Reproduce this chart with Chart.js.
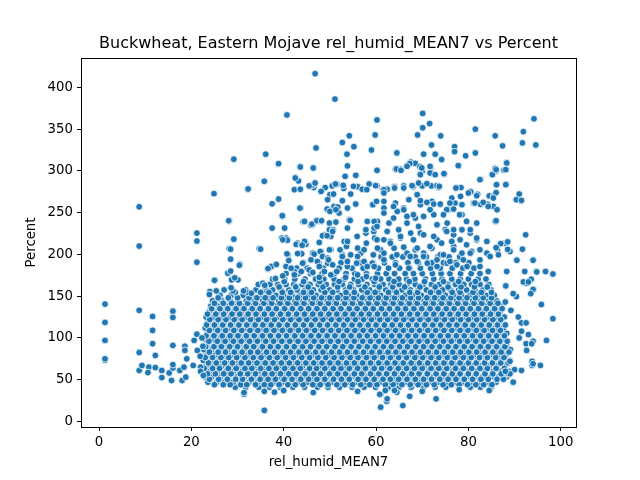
<!DOCTYPE html>
<html>
<head>
<meta charset="utf-8">
<script src="https://cdn.jsdelivr.net/npm/chart.js@4.4.1/dist/chart.umd.min.js"></script>
<style>
  html, body { margin: 0; padding: 0; background: #fff; }
</style>
</head>
<body>
<canvas id="chart" width="640" height="480"></canvas>
<script>
var chartTitle = "Buckwheat, Eastern Mojave rel_humid_MEAN7 vs Percent";
var xLabel = "rel_humid_MEAN7";
var yLabel = "Percent";
var xTicks = [0, 20, 40, 60, 80, 100];
var yTicks = [0, 50, 100, 150, 200, 250, 300, 350, 400];

// dense middle of the cloud, read row by row: [Percent, humid, humid, ...]
var coreRows = [
  [41, 29.5,31.8,34.6,36.9,39.2,42,44.5,47.3,49.6,52.1,54.8,57.4,59.9,62.7,65,67.6,70.3,72.8,75.1,77.9,80.4,82.6,84.9],
  [47, 23.6,25.5,27.2,29.1,30.6,32.5,34.4,36.2,37.8,39.7,41.6,43.3,45.1,46.7,48.6,50.4,52.3,53.9,55.8,57.5,59.2,61.1,62.9,64.5,66.4,68.2,69.8,71.7,73.6,75.2,77.1,78.8,80.6,82.4,84.1,86],
  [53.5, 22.8,24.4,26.3,28,29.9,31.5,33.4,35.3,36.9,38.8,40.5,42.3,44.1,45.9,47.6,49.3,51.2,52.9,54.7,56.6,58.2,60,61.8,63.7,65.3,67.1,68.9,70.8,72.4,74.3,76,77.7,79.6,81.3,83.1,84.9,86.6,88.3],
  [60, 22.5,23.9,25.6,27.5,29.1,31,32.7,34.5,36.1,38,39.8,41.5,43.2,45,46.8,48.5,50.3,52,53.7,55.6,57.3,59.1,60.8,62.6,64.4,66.1,67.8,69.6,71.4,73.1,74.8,76.6,78.3,80.1,81.8,83.6,85.4,87.1,88.8],
  [66.5, 23.2,24.9,26.6,28.4,30.1,31.9,33.6,35.4,37.1,38.9,40.6,42.4,44.1,45.9,47.7,49.4,51.2,52.9,54.6,56.4,58.1,59.9,61.7,63.4,65.2,66.9,68.7,70.4,72.2,73.9,75.7,77.4,79.2,80.9,82.7,84.5,86.2,88],
  [73, 22.6,24.2,26,27.7,29.5,31.2,33,34.7,36.5,38.2,40,41.7,43.5,45.2,47,48.7,50.5,52.2,54,55.7,57.5,59.2,61,62.7,64.5,66.2,68,69.7,71.5,73.2,75,76.7,78.5,80.2,82,83.7,85.5,87.2,89],
  [79.5, 23.3,25.1,26.8,28.6,30.3,32.1,33.8,35.6,37.3,39.1,40.8,42.6,44.3,46.1,47.8,49.6,51.3,53.1,54.8,56.6,58.3,60.1,61.8,63.6,65.3,67.1,68.8,70.6,72.3,74.1,75.8,77.6,79.3,81.1,82.8,84.6,86.3,88.1],
  [86, 22.7,24.4,26.2,27.9,29.7,31.4,33.2,34.9,36.7,38.4,40.2,41.9,43.7,45.4,47.2,48.9,50.7,52.4,54.2,55.9,57.7,59.4,61.2,62.9,64.7,66.4,68.2,69.9,71.7,73.4,75.2,76.9,78.7,80.4,82.2,83.9,85.7,87.4,89.1],
  [92.5, 23.4,25.2,26.9,28.7,30.4,32.2,33.9,35.7,37.4,39.2,40.9,42.7,44.4,46.2,47.9,49.7,51.4,53.2,54.9,56.7,58.4,60.2,61.9,63.7,65.4,67.2,68.9,70.7,72.4,74.2,75.9,77.7,79.4,81.2,82.9,84.7,86.4,88.2],
  [99, 22.8,24.5,26.3,28,29.8,31.5,33.3,35,36.8,38.5,40.3,42,43.8,45.5,47.3,49,50.8,52.5,54.3,56,57.8,59.5,61.3,63,64.8,66.5,68.3,70,71.8,73.5,75.3,77,78.8,80.5,82.3,84,85.8,87.5],
  [105.5, 23.5,25.3,27,28.8,30.5,32.3,34,35.8,37.5,39.3,41,42.8,44.5,46.3,48,49.8,51.5,53.3,55,56.8,58.5,60.3,62,63.8,65.5,67.3,69,70.8,72.5,74.3,76,77.8,79.5,81.3,83,84.8,86.5,88.3],
  [112, 23,24.7,26.4,28.2,29.9,31.7,33.4,35.2,36.9,38.7,40.4,42.2,43.9,45.7,47.4,49.2,50.9,52.7,54.4,56.2,57.9,59.7,61.4,63.2,64.9,66.7,68.4,70.2,71.9,73.7,75.4,77.2,78.9,80.7,82.4,84.2,85.9,87.6],
  [118.5, 23.6,25.4,27.1,28.9,30.6,32.4,34.1,35.9,37.6,39.4,41.1,42.9,44.6,46.4,48.1,49.9,51.6,53.4,55.1,56.9,58.6,60.4,62.1,63.9,65.6,67.4,69.1,70.9,72.6,74.4,76.1,77.9,79.6,81.4,83.1,84.9,86.6],
  [125, 23.2,24.9,26.7,28.4,30.2,31.9,33.7,35.4,37.2,38.9,40.7,42.4,44.2,45.9,47.7,49.4,51.2,52.9,54.7,56.4,58.2,59.9,61.7,63.4,65.2,66.9,68.7,70.4,72.2,73.9,75.7,77.4,79.2,80.9,82.7,84.4,86.2,87.8],
  [131.5, 23.9,25.7,27.4,29.2,30.9,32.7,34.4,36.2,37.9,39.7,41.4,43.2,44.9,46.7,48.4,50.2,51.9,53.7,55.4,57.2,58.9,60.7,62.4,64.2,65.9,67.7,69.4,71.2,72.9,74.7,76.4,78.2,79.9,81.7,83.4,85.2,86.9],
  [138, 24.2,26,27.7,29.5,31.2,33,34.7,36.5,38.2,40,41.7,43.5,45.2,47,48.7,50.5,52.2,54,55.7,57.5,59.2,61,62.7,64.5,66.2,68,69.7,71.5,73.2,75,76.7,78.5,80.2,82,83.7,85.5,87.2],
  [144.5, 24.6,26.6,28.4,30.1,31.9,33.6,35.4,37.1,38.9,40.6,42.4,44.1,45.9,47.6,49.4,51.1,52.9,54.6,56.4,58.1,59.9,61.6,63.4,65.1,66.9,68.6,70.4,72.1,73.9,75.6,77.4,79.1,80.9,82.6,84.4,86.1],
  [151, 26.2,28.6,31.2,33,34.8,36.5,38.3,40,41.8,43.5,45.3,47,48.8,50.5,52.3,54,55.8,57.5,59.3,61,62.8,64.5,66.3,68,69.8,71.5,73.3,75,76.8,78.5,80.3,82,83.8,85.6],
  [157.5, 31.8,34,35.9,37.6,39.4,41.1,42.9,44.6,46.4,48.1,49.9,51.6,53.4,55.1,56.9,58.6,60.4,62.1,63.9,65.6,67.4,69.1,70.9,72.6,74.4,76.1,77.9,79.6,81.4,83.1,84.9],
  [164, 34.5,37,38.7,40.5,42.2,44,45.7,47.5,49.2,51,52.7,54.5,56.2,58,59.7,61.5,63.2,65,66.7,68.5,70.2,72,73.7,75.5,77.2,79,80.7,82.5,84.4],
  [170.5, 37.6,40.2,42.4,44.6,46.9,48.7,50.9,53.1,55.3,57,59.2,61,62.8,64.9,66.6,68.4,70.7,72.5,74.3,76.4,78.2,80,82.1,83.8],
  [177, 40.5,43.2,45.8,48.3,51,53.5,55.4,57.9,60.3,62.2,64,66.3,68.1,70,72.2,74.1,76,78.3,80.6,82.5],
  [183.5, 42.8,45.1,48.6,51.9,54.8,57.2,60.5,62.7,65.1,67.3,69.6,71.8,73.9,76.5,78.8,81.2],
  [190, 44.3,47.6,52.4,56.5,59.3,61.8,64.2,66.9,69.2,72.1,74.6,77.3,80.1],
  [197, 61.1,63.5,65.8,68.5,70.9,73.4,75.8,78.1]
];

// second pass over the dense middle, between the rows above
var fillRows = [
  [44, 25,26.9,28.4,30.7,32,33.9,35.8,37.2,39,40.9,42.5,44.2,46.3,47.9,49.6,51.5,53.2,54.9,56.7,58.6,60.2,62,63.7,65.6,67.4,69.1,70.9,72.6,74.5,76.3,78,79.8,81.6,83.3,85.1],
  [50.5, 23.9,25.9,27.8,29.6,31.1,33,34.9,36.6,38.2,40.1,41.8,43.7,45.4,47.2,48.9,50.8,52.5,54.2,56.1,57.8,59.6,61.5,63.1,64.9,66.7,68.5,70.3,72,73.8,75.6,77.3,79.1,80.9,82.7,84.3,86.2,87.6],
  [57, 23.5,25.2,27,28.6,30.6,32.2,33.9,35.9,37.5,39.3,41.1,42.7,44.6,46.5,48,49.9,51.7,53.4,55.3,56.9,58.8,60.6,62.3,64,65.8,67.7,69.3,71.1,73,74.7,76.5,78.2,80,81.7,83.6,85.3,87.1,88.6],
  [63.5, 22.8,24.6,26.1,28,29.7,31.6,33.1,35,36.8,38.4,40.2,42,43.6,45.6,47.1,48.9,50.8,52.4,54.2,56,57.7,59.6,61.2,63,64.8,66.6,68.3,70,71.9,73.6,75.3,77.2,78.9,80.7,82.5,84.1,86,87.8],
  [70, 23.7,25.4,27.2,28.9,30.8,32.4,34.2,36,37.7,39.5,41.2,43,44.8,46.5,48.3,50,51.8,53.6,55.3,57.1,58.8,60.6,62.4,64.1,65.9,67.6,69.4,71.2,72.9,74.7,76.4,78.2,80,81.7,83.5,85.2,87,88.6],
  [76.5, 23,24.6,26.4,28.1,29.8,31.6,33.4,35.1,36.9,38.6,40.4,42.1,43.9,45.6,47.4,49.1,50.9,52.6,54.4,56.1,57.9,59.6,61.4,63.1,64.9,66.6,68.4,70.1,71.9,73.6,75.4,77.1,78.9,80.6,82.4,84.1,85.9,87.7],
  [83, 23.9,25.8,27.4,29.3,31,32.8,34.4,36.3,38,39.8,41.5,43.3,45,46.9,48.5,50.4,52.1,53.8,55.6,57.3,59.1,60.8,62.6,64.3,66.1,67.8,69.6,71.3,73.1,74.8,76.6,78.3,80.1,81.8,83.6,85.3,87.1,88.8],
  [89.5, 23.1,24.9,26.5,28.3,30,31.9,33.5,35.4,37.1,38.8,40.6,42.3,44.1,45.8,47.6,49.3,51.1,52.8,54.6,56.3,58.1,59.8,61.6,63.3,65.1,66.8,68.6,70.3,72.1,73.8,75.6,77.3,79.1,80.8,82.6,84.3,86.1,87.9],
  [96, 23.8,25.6,27.3,29.1,30.8,32.6,34.3,36.1,37.8,39.6,41.3,43.1,44.8,46.6,48.3,50.1,51.8,53.6,55.3,57.1,58.8,60.6,62.3,64.1,65.8,67.6,69.3,71.1,72.8,74.6,76.3,78.1,79.8,81.6,83.3,85.1,86.8,88.4],
  [102.5, 23.2,24.9,26.7,28.4,30.1,31.9,33.6,35.4,37.1,38.9,40.6,42.4,44.1,45.9,47.6,49.4,51.1,52.9,54.6,56.4,58.1,59.9,61.6,63.4,65.1,66.9,68.6,70.4,72.1,73.9,75.6,77.4,79.1,80.9,82.6,84.4,86.1,87.8],
  [109, 23.9,25.7,27.4,29.2,30.9,32.7,34.4,36.2,37.9,39.7,41.4,43.2,44.9,46.7,48.4,50.2,51.9,53.7,55.4,57.2,58.9,60.7,62.4,64.2,65.9,67.7,69.4,71.2,72.9,74.7,76.4,78.2,79.9,81.7,83.4,85.2,86.9],
  [115.5, 23.3,25,26.8,28.5,30.3,32,33.8,35.5,37.3,39,40.8,42.5,44.3,46,47.8,49.5,51.3,53,54.8,56.5,58.3,60,61.8,63.5,65.3,67,68.8,70.5,72.3,74,75.8,77.5,79.3,81,82.8,84.5,86.3,88],
  [122, 24,25.8,27.5,29.3,31,32.8,34.5,36.3,38,39.8,41.5,43.3,45,46.8,48.5,50.3,52,53.8,55.5,57.3,59,60.8,62.5,64.3,66,67.8,69.5,71.3,73,74.8,76.5,78.3,80,81.8,83.5,85.3,87],
  [128.5, 23.5,25.3,27,28.8,30.5,32.3,34,35.8,37.5,39.3,41,42.8,44.5,46.3,48,49.8,51.5,53.3,55,56.8,58.5,60.3,62,63.8,65.5,67.3,69,70.8,72.5,74.3,76,77.8,79.5,81.3,83,84.8,86.5],
  [135, 24.4,26.2,27.9,29.7,31.4,33.2,34.9,36.7,38.4,40.2,41.9,43.7,45.4,47.2,48.9,50.7,52.4,54.2,55.9,57.7,59.4,61.2,62.9,64.7,66.4,68.2,69.9,71.7,73.4,75.2,76.9,78.7,80.4,82.2,83.9,85.7,87.3],
  [141.5, 25,26.9,28.7,30.4,32.2,33.9,35.7,37.4,39.2,40.9,42.7,44.4,46.2,47.9,49.7,51.4,53.2,54.9,56.7,58.4,60.2,61.9,63.7,65.4,67.2,68.9,70.7,72.4,74.2,75.9,77.7,79.4,81.2,82.9,84.7,86.4],
  [148, 25.8,28,30,32.5,34.2,36,37.7,39.5,41.2,43,44.7,46.5,48.2,50,51.7,53.5,55.2,57,58.7,60.5,62.2,64,65.7,67.5,69.2,71,72.7,74.5,76.2,78,79.7,81.5,83.2,85],
  [154.5, 29.5,32.2,35,36.8,39.7,41.5,44.3,46,48.9,50.6,53.5,55.3,58.1,59.8,62.7,64.4,67.3,69,71.8,73.6,76.5,78.2,81,82.8,85],
  [161, 36,39,42.6,45.3,48.5,51.7,54.3,57.6,60.7,63.6,66.2,69.5,72.8,75.6,78.4,81.3,84.1],
  [167.5, 40.1,44.3,47.8,52,56.1,59.6,63.9,67.2,70.5,74.6,77.9,81.5]
];

// medium density band between about 180 and 265
var midPoints = [
  [43.7,255.5],[49.5,253.5],[50.9,257.5],[52.7,263.5],[55.6,260.7],[59.2,259.5],[61.7,255.5],
  [64.2,261.5],[66,255.5],[67.1,265.5],[69.6,259.5],[72.1,263.5],[73.9,259.5],[75.7,253.5],
  [77.1,261.5],[81.1,261.5],[83.3,261.5],[85.4,257.5],
  [39.8,245.5],[44.5,239.5],[46.3,235.5],[48.1,239.5],[49.9,237.5],[52,249.5],[54.2,241.5],
  [58.1,239.5],[60.3,239.5],[62.8,237.5],[64.6,251.5],[66.7,245.5],[68.5,243.5],[70.3,245.5],
  [72.5,247.5],[75.4,237.5],[78.6,247.5],[81.8,237.5],[85.8,239.5],
  [40.2,231.5],[40.5,219.5],[43,213.5],[44.8,213.5],[48.8,223.5],[50.2,221.5],[53.1,215.5],
  [55.9,221.5],[57.8,225.5],[59.5,227.5],[61.7,217.5],[63.1,215.5],[64.9,229.5],[65.3,219.5],
  [67.5,225.5],[69.6,225.5],[73.2,217.5],[75,229.5],[76.8,223.5],[80.4,225.5],[81.8,217.5],
  [40.9,199.5],[43.7,201.5],[46.3,201.5],[48.1,203.5],[50.2,205.5],[52.7,199.5],[54.5,199.5],
  [56.7,201.5],[59.5,199.5],[61,205.5],[63.9,207.5],[66.7,201.5],[68.5,205.5],[70.3,201.5],
  [72.1,207.5],[73.9,199.5],[76.8,209.5],[78.6,201.5],[80.7,203.5],[84,201.5],
  [40.5,185.5],[42.3,179.5],[45.5,181.5],[47.3,191.5],[49.5,189.5],[52,183.5],[53.8,185.5],
  [57.4,191.5],[59.2,189.5],[61.7,193.5],[64.2,187.5],[67.1,183.5],[68.9,191.5],[71.1,189.5],
  [73.2,185.5],[75.4,189.5],[77.5,187.5],[79.7,185.5],[82.5,185.5],[84.3,179.5]
];

// low humidity stragglers on the left
var leftPoints = [
  [1.3,140.5],[1.3,118.5],[1.3,97],[1.3,73.3],[1.3,75],
  [8.7,257],[8.7,210],[8.7,133],[8.7,82.5],[8.7,61],
  [9.3,67],[10.8,65],[10.6,58.5],[11.6,125.7],[11.6,109],[11.6,93],[12.2,79],[12.2,64.5],
  [13.6,61],[13.6,52.5],[15.2,58],[15.7,49],[16,64],[16,68],[16,132],[16,124.5],[16,91],
  [17.5,61],[18,49],[18.8,53],[18.4,65],[19,75],[18.6,90],[18.6,85],[20.4,67],[20.6,97],
  [21.3,85],[21.2,104.5],[22,65],[22,60],[21.2,225.5],[21.2,216],[21.2,190.6],[22.3,100],
  [21.9,78],[22.5,90],[22.6,55]
];

// scattered points above the dense cloud
var upperPoints = [
  [46.8,416.4],[40.7,367],[47,327.5],[29.2,314],[36.1,320],[38.8,308],[43.5,304.7],[46.4,303.5],
  [42.5,292],[43.2,288],[35.8,288],[46.5,280],[46.3,283],[42.3,277.5],[43.6,278],[48,275],
  [32.2,278],[24.9,272.7],[38.8,266],[37.5,260.6],[43.5,255.5],[39.6,246],[28.2,240],[44.2,239],
  [45.9,235],[47,240],[37.5,231.5],[40.2,231.5],[29.2,218],[39.6,219.5],[40.8,217],[42.7,212],
  [44.8,212],[28.2,207],[34.7,207],
  [51.1,386],[70.1,368.8],[60.2,361],[71.6,356.7],[70.1,351.6],[94.2,362.4],[91.9,347],[81.5,350],
  [69,343],[54.2,342],[59.8,343],[52.7,334],[55.2,329],[85.8,342],[91.7,333.5],[94.6,331],[74,342],
  [72,331],[77,329],[77,323],[87.4,330],[59,325],[53.7,320],[64.5,321.5],[72.8,320],[70.3,320],
  [81.5,321.5],[79.4,318],[74.2,314],[67.5,310.5],[68.5,309],[66.8,307],[65.3,302],[64.2,302],
  [77.9,306],[88.2,309.5],[85.8,303],[87.7,301],[85.1,296],[86,300],[53.8,306],[60.3,301],[69.5,305],
  [70,300],[71.8,303],[69.5,296],[71.8,298],[74.8,296],[82.6,290],[53.3,293.5],[55.7,295],
  [45.5,282],[49,280],[50.5,282],[51.5,284],[53,279],[56,281],[57,278],
  [60.2,282],[61.5,277.5],[62.4,278],[64,281],[66,282],[68,281],[70,282],[72,282],[73.5,280],
  [78.4,280],[86,283],[88.2,284],[80.5,275],[82,272],[84.5,270],[85.5,270],[86,274],[91,272],
  [90.3,265.5],[91.4,264],[82.6,260],[84.2,260],
  [38.9,308.7],[43.6,304.7],[55.6,294.7],[35.8,287.5],[32.3,278.3],[42.5,291.5],[46.8,285.5],
  [48.1,275.5],[51.2,284.3],[52.9,282.7],[55.1,281.5],[54.5,272.3],[58.5,284.3],[59.9,282.3],
  [58,277.5],[50,271.5],[50.8,272.3],[38.9,266.3],[49.5,265.5],[52.7,264.3],[55.6,260.3],
  [59.3,259.5],[60.1,263.5],[49.4,254.3],[50,251.5],[51.7,256.7],[51.3,253.5],[53.8,255.5],
  [39.7,246.3],[28.1,240.3],[44.5,239.5],[46.1,236.3],[47.2,240.3],[48.2,240.3],[49.9,237.5],
  [51.3,238.7],[49.9,229.5],[50.7,229.5],[54.4,240.7],[53.8,231.5],[58.1,239.5],[59.6,239.5],
  [57.8,229.5],[59.6,231.5],[29.2,218.3],[39.8,217.5],[35,206.3],[28.5,206.3],[28.5,194.3],
  [30.5,188.3],[43.8,211.5],[44.5,215.5],[43.9,200.7],[46.6,200.3],[47.7,214.3],[48.4,222.3],
  [49.4,222.3],[50.6,227.5],[47.9,203.5],[48.4,197.5],[49.5,195.5],[49.9,205.5],[52.2,205.5],
  [52.7,197.5],[53.6,209.5],[53.8,215.5],[56,207.5],[56,197.5],[57.4,205.5],[57.9,213.5],
  [59.7,219.5],[60.3,207.5],[59.4,199.5],[40.7,200.7],[41.1,192.7],[36.6,182.3],[37.3,185.5],
  [25.1,169.5],[27.9,177.5],[28.7,169.5],[30.1,169.5],[24,155.5],[25.4,156.3],[27.1,157.5],
  [29,156.3],[31.3,156.3],[33,153.5],[35.5,165.5],[38.2,171.5],[39.8,174.3],[41.6,183.5],
  [42.3,175.5],[43.8,179.5],[46.3,178.3],[47.7,172.5],[48.8,179.5],[50.2,175.5],[51.5,179.5],
  [53.4,172.5],[56,175.5],[57.9,173.5],[59.9,171.5],[49.7,193.5],[50.6,187.5],[53.8,191.5],
  [55.8,189.5],[58.1,185.5],[59.6,185.5],[45.9,193.5],[47.7,185.5],[44.1,189.5],[30.4,187],
  [28.5,180],[29.4,172],[36.6,183],[38.4,188],[38.2,171],[35.9,163],[43,201],[44,211],
  [23.9,152],[25,169],[28.6,160],
  [60.2,300.7],[67.3,308.7],[66.7,305.5],[64.4,302.3],[65.4,300.7],[69.9,303.5],[69.6,295.5],
  [71.7,305.5],[71.7,297.5],[74.2,313.5],[77.8,306.3],[74.7,296.7],[72.8,295.5],[69.2,285.5],
  [71,284.7],[73.2,282.3],[73.7,281.5],[67.8,282.3],[66,279.5],[64,279.5],[61.7,277.5],[61.7,273.5],
  [77.3,279.5],[80,273.5],[81.8,270.3],[82.5,289.5],[85.2,295.5],[86,301.5],[88.1,301.5],
  [88.3,309.5],[86.1,283.5],[88.1,283.5],[91,272.3],[90.4,265.5],[91.5,264.7],[81.4,261.5],
  [83.2,262.3],[85.4,267.5],[84.3,257.5],[86.2,253.5],[86,240.3],[78.3,269.5],[76.4,267.5],
  [78.6,259.5],[76,261.5],[68.9,271.5],[69.6,264.3],[71,262.3],[72.5,260.3],[73.9,260.3],
  [71.7,253.5],[75.3,253.5],[76.8,254.3],[78.1,247.5],[74.6,247.5],
  [61.7,263.5],[63.8,257.5],[66,253.5],[68.1,247.5],[61.7,249.5],[63.8,243.5],[66.7,237.5],
  [69.2,233.5],[73.2,235.5],[75.3,227.5],[76.8,229.5],[70.3,223.5],[72.5,221.5],[60.2,233.5],
  [62.4,227.5],[65.3,221.5],[68.1,217.5],[60.2,217.5],[63.1,213.5],[66,208.7],[68.9,207.5],
  [71.7,209.5],[74.2,213.5],[76.4,215.5],[78.2,217.5],[79.6,211.5],[76.8,205.5],[74.6,199.5],
  [80.4,201.5],[82.5,205.5],[84,215.5],[84.7,197.5],[82.5,193.5],[78.9,193.5],[76,191.5],
  [73.2,193.5],[70.3,197.5],[67.4,197.5],[64.5,199.5],[61.7,201.5],
  [79.6,239.5],[81.8,237.5],[80.4,229.5],[78.6,229.5],[81.8,219.5],[92.4,223.5],[87.9,213.5],
  [86.3,205.5],[89,203.5],[86.5,199.5],[91.7,206.3],[90.4,193.5],[94,193.5],[88.3,179.5],
  [92.2,179.5],[94.7,179.5],[96.7,179.5],[93.6,170.3],[92.6,165.5],[94.1,158.3],[88.1,162.3],
  [90.4,149.5]
];

// right-hand edge of the cloud
var rightPoints = [
  [98.3,123],[96.9,97],[95.6,67],[93.8,67],[93.8,72],[95.8,140],[94,158],[93.5,153],[98.3,176.5],
  [94.8,179],[94,193],[90.5,193],[91.9,167],[93,167],[88.5,206],[87,213],[88.5,215],[86,208],
  [89.7,153],[88,143],[89.2,133],[90.8,125],[91.5,118],[92.5,118],[93,104],[91.5,108],[91,100],
  [92.5,93],[94,96],[89,72],[90,62],[89,57],[88,60],[89.7,47],[91.5,61],[94,69],[92.6,85],[93.7,93]
];

// lowest values under the cloud
var bottomPoints = [
  [84.5,37],[61,17],[62.3,24],[65.8,19],[67.3,30],[73,27],[61,32],[64.5,35],[46.4,34.5],
  [31.4,32.5],[31.4,34.5],[35.8,13.2],[35.8,36],[60.8,32.4],[62.4,27],[64,37],[62,37],
  [38,35],[40,37],[56,36],[70,36],[78,38]
];

var points = [];
[coreRows, fillRows].forEach(function (rows) {
  rows.forEach(function (row) {
    for (var i = 1; i < row.length; i++) points.push({ x: row[i], y: row[0] });
  });
});
[midPoints, leftPoints, upperPoints, rightPoints, bottomPoints].forEach(function (list) {
  list.forEach(function (p) { points.push({ x: p[0], y: p[1] }); });
});

var font = "DejaVu Sans";

// matplotlib style box and the title over the plot area
var framePlugin = {
  id: "frame",
  afterDraw: function (chart) {
    var a = chart.chartArea, ctx = chart.ctx;
    ctx.save();
    ctx.strokeStyle = "#000";
    ctx.lineWidth = 1;
    ctx.strokeRect(Math.round(a.left) + 0.5, Math.round(a.top) + 0.5,
      Math.round(a.right - a.left), Math.round(a.bottom - a.top));
    ctx.fillStyle = "#000";
    ctx.font = "16px '" + font + "'";
    ctx.textAlign = "center";
    ctx.textBaseline = "middle";
    ctx.fillText(chartTitle, (a.left + a.right) / 2, 44);
    ctx.restore();
  }
};

new Chart(document.getElementById("chart").getContext("2d"), {
  type: "scatter",
  data: {
    datasets: [{
      data: points,
      backgroundColor: "#1f77b4",
      borderColor: "#ffffff",
      borderWidth: 0.8,
      pointRadius: 3.4,
      pointHoverRadius: 3.4
    }]
  },
  options: {
    responsive: false,
    animation: false,
    events: [],
    layout: { padding: { top: 58, right: 64, left: 0, bottom: 0 } },
    plugins: {
      legend: { display: false },
      tooltip: { enabled: false },
      title: { display: false }
    },
    scales: {
      x: {
        type: "linear",
        min: -3.9,
        max: 103.3,
        afterBuildTicks: function (s) { s.ticks = xTicks.map(function (v) { return { value: v }; }); },
        afterFit: function (s) { s.height = 53; },
        grid: { drawOnChartArea: false, tickLength: 4, color: "#000" },
        border: { display: true, color: "#000" },
        ticks: { color: "#000", padding: 4, maxRotation: 0, font: { family: font, size: 13.3 } },
        title: { display: true, text: xLabel, color: "#000", padding: { top: 0, bottom: 9 }, font: { family: font, size: 13.3 } }
      },
      y: {
        type: "linear",
        min: -6.7,
        max: 435.2,
        afterBuildTicks: function (s) { s.ticks = yTicks.map(function (v) { return { value: v }; }); },
        afterFit: function (s) { s.width = 81; },
        grid: { drawOnChartArea: false, tickLength: 4, color: "#000" },
        border: { display: true, color: "#000" },
        ticks: { color: "#000", padding: 4, font: { family: font, size: 13.3 } },
        title: { display: true, text: yLabel, color: "#000", padding: { top: 24, bottom: 0 }, font: { family: font, size: 13.3 } }
      }
    }
  },
  plugins: [framePlugin]
});
</script>
</body>
</html>
